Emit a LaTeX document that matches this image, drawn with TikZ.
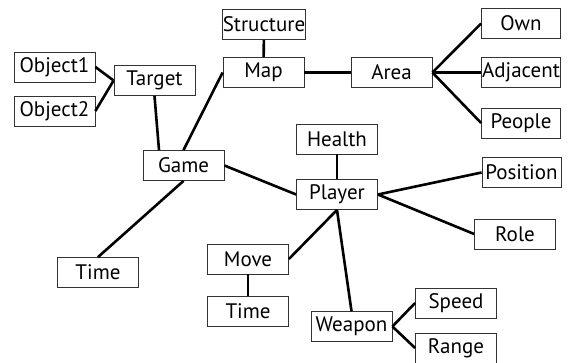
\documentclass[tikz,border=0pt]{standalone}
\usepackage{fontspec}
\setmainfont{PT Sans}
\begin{document}
\begin{tikzpicture}[x=1pt,y=-1pt]

      \useasboundingbox (0,0) rectangle (569,363);

      \begin{scope}[every node/.style={draw=black!80,line width=0.8pt,minimum width=81pt,minimum height=30pt,inner sep=0pt,font=\fontsize{21}{24}\selectfont}]
        \node (object1)   at (54.5,67)   {Object1};
        \node (object2)   at (54.5,111)  {Object2};
        \node (target)    at (154.5,80.5) {Target};
        \node (structure) at (264,24.5)  {Structure};
        \node (map)       at (263.5,72.5) {Map};
        \node (area)      at (391.5,72.5) {Area};
        \node (game)      at (183.5,165.5) {Game};
        \node (health)    at (337,139)   {Health};
        \node (player)    at (337,194.5) {Player};
        \node (role)      at (515,234)   {Role};
        \node (time1)     at (98,272.5)  {Time};
        \node (move)      at (248,259)   {Move};
        \node (time2)     at (248,311.5) {Time};
        \node (weapon)    at (351.5,326.5) {Weapon};
        \node (speed)     at (456,303)   {Speed};
        \node (range)     at (456,348)   {Range};
        \begin{scope}[every node/.append style={minimum width=79pt}]
          \node (own)      at (521,23.5)  {Own};
          \node (adjacent) at (521,72.5)  {Adjacent};
          \node (people)   at (521,123)   {People};
          \node (position) at (521.5,172.5) {Position};
        \end{scope}
      \end{scope}

      \begin{scope}[every edge/.style={draw,line width=2.6pt}]
        \path (object1.east) edge (target.west);
        \path (object2.east) edge (target.west);
        \path (target.south) edge ([xshift=-24.5pt]game.north);
        \path (map.west)     edge (game.north);
        \path (structure)    edge (map);
        \path (map)          edge (area);
        \path (area.east)    edge (own.west);
        \path (area.east)    edge (adjacent.west);
        \path (area.east)    edge (people.west);
        \path (game.east)    edge (player.west);
        \path (game.south)   edge (time1.north);
        \path (health)       edge (player);
        \path (player.east)  edge (position.west);
        \path (player.east)  edge (role.west);
        \path (player.south) edge (move.east);
        \path (player.south) edge (weapon.north);
        \path (move)         edge (time2);
        \path (weapon.east)  edge (speed.west);
        \path (weapon.east)  edge (range.west);
      \end{scope}

    \end{tikzpicture}
\end{document}
